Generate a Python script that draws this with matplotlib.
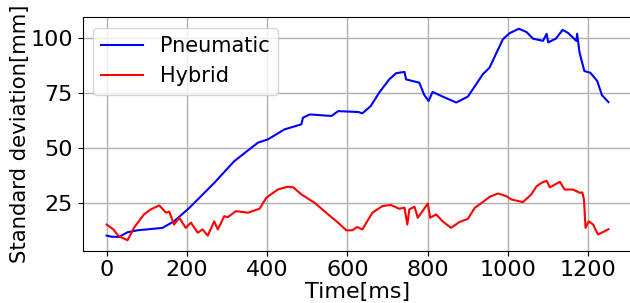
import matplotlib
matplotlib.use('Agg')
import matplotlib.pyplot as plt
import numpy as np

# values
pneu_t = [0, 12, 31, 52, 77, 139, 168, 202, 227, 268, 318, 377, 402, 443, 485, 489,
          506, 560, 577, 627, 637, 658, 679, 704, 721, 742, 746, 779, 791, 802, 812,
          837, 871, 900, 937, 954, 987, 1004, 1027, 1046, 1062, 1087, 1096, 1100,
          1119, 1136, 1150, 1170, 1172, 1178, 1190, 1205, 1222, 1234, 1250]
pneu_sd = [10.1, 9.6, 9.5, 11.6, 12.5, 13.6, 16.6, 22.0, 26.5, 34.0, 43.9, 52.3, 53.8,
           58.3, 60.6, 63.6, 65.1, 64.4, 66.6, 66.2, 65.6, 68.9, 75.0, 81.0, 83.8,
           84.4, 81.0, 79.5, 74.0, 71.2, 75.3, 73.2, 70.5, 73.2, 83.3, 86.4, 99.2,
           102.0, 104.0, 102.5, 99.5, 98.5, 101.7, 97.8, 99.5, 103.5, 102.0, 98.5,
           101.7, 93.2, 84.8, 84.0, 80.3, 73.8, 70.7]

hyb_t = [0, 17, 30, 39, 52, 68, 93, 110, 131, 148, 156, 168, 181, 197, 210, 227, 239,
         252, 268, 277, 293, 302, 322, 352, 381, 398, 427, 452, 465, 485, 518, 552,
         577, 597, 612, 624, 637, 662, 687, 708, 729, 742, 749, 754, 767, 775, 787,
         800, 806, 821, 837, 858, 879, 900, 917, 937, 954, 975, 996, 1008, 1037,
         1058, 1071, 1083, 1096, 1104, 1129, 1141, 1162, 1179, 1185, 1189, 1193,
         1201, 1212, 1224, 1240, 1250]
hyb_sd = [15.1, 12.9, 9.8, 9.1, 8.0, 13.6, 19.7, 22.0, 23.8, 20.5, 21.0, 15.1, 18.2,
          13.6, 16.0, 11.4, 12.9, 10.1, 16.6, 12.9, 18.9, 18.5, 21.2, 20.5, 22.3,
          27.3, 31.1, 32.3, 32.0, 28.8, 25.0, 19.7, 15.9, 12.5, 12.5, 14.0, 12.9,
          20.5, 23.5, 24.0, 22.3, 22.8, 15.1, 22.0, 23.2, 18.2, 21.2, 24.7, 18.2,
          19.7, 16.6, 13.6, 16.3, 17.7, 22.7, 25.3, 27.7, 29.2, 28.0, 26.5, 25.3,
          28.8, 32.5, 34.0, 35.0, 32.0, 34.5, 31.0, 31.0, 29.5, 29.7, 26.5, 13.6,
          16.6, 15.1, 10.6, 12.0, 13.0]

fig = plt.figure(figsize=(6.3, 3.03), dpi=100)
ax = fig.add_axes([0.131, 0.173, 0.873, 0.77])

ax.plot(pneu_t, pneu_sd, color='b', linewidth=1.5, label='Pneumatic')
ax.plot(hyb_t, hyb_sd, color='r', linewidth=1.5, label='Hybrid')

ax.set_xlim(-60, 1310)
ax.set_ylim(3.3, 109.2)
ax.set_xticks([0, 200, 400, 600, 800, 1000, 1200])
ax.set_yticks([25, 50, 75, 100])
ax.tick_params(labelsize=16)
ax.grid(True, color='#b0b0b0', linewidth=1)
ax.set_xlabel('Time[ms]', fontsize=16, labelpad=1)
ax.set_ylabel('Standard deviation[mm]', fontsize=15.3, labelpad=0)
ax.legend(loc='upper left', fontsize=15)

fig.savefig('out.png', dpi=100)
